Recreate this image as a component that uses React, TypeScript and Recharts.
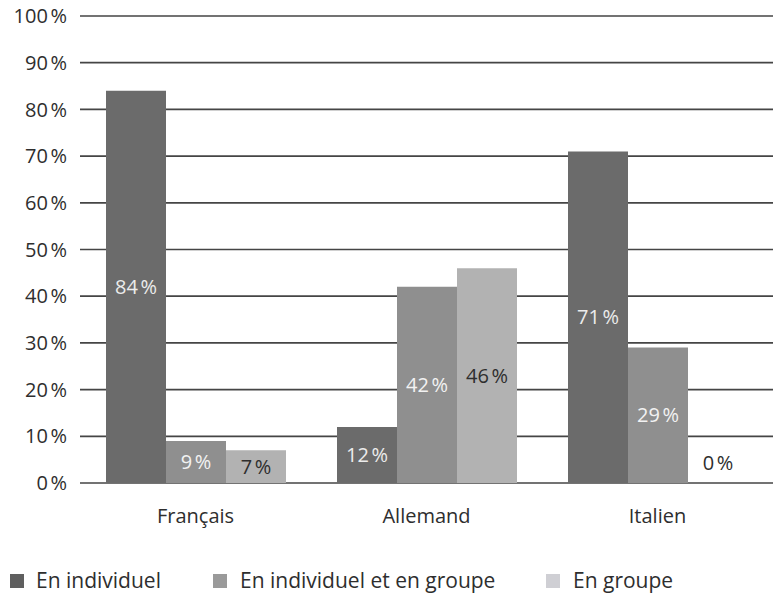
import { BarChart, Bar, XAxis, YAxis, CartesianGrid, LabelList, Rectangle } from "recharts";

const languages = ["Français", "Allemand", "Italien"];
const enIndividuel = [84, 12, 71];
const enIndividuelEtGroupe = [9, 42, 29];
const enGroupe = [7, 46, 0];
const yTicks = [0, 10, 20, 30, 40, 50, 60, 70, 80, 90, 100];

const series = [
  { key: "individuel", label: "En individuel", color: "#6b6b6b", legend: "#5f5f5f", text: "#ececec" },
  { key: "mixte", label: "En individuel et en groupe", color: "#8f8f8f", legend: "#9a9a9a", text: "#f2f2f2" },
  { key: "groupe", label: "En groupe", color: "#b2b2b2", legend: "#cfcfd4", text: "#2e2e2e" },
];

const data = languages.map((name, i) => ({
  name,
  individuel: enIndividuel[i],
  mixte: enIndividuelEtGroupe[i],
  groupe: enGroupe[i],
}));

const FONT = "'Open Sans', sans-serif";
const pct = (v: number) => `${v}\u202f%`;

function makeLabel(color: string) {
  return (props: any) => {
    const { x, y, width, height, value } = props;
    if (!(height > 0)) return null;
    return (
      <text
        x={x + width / 2}
        y={y + height / 2}
        dy="0.35em"
        textAnchor="middle"
        fill={color}
        fontSize={20}
        fontFamily={FONT}
      >
        {pct(value)}
      </text>
    );
  };
}

// zero-height bars get no rectangle, so their value is written just above the baseline
function BarShape(props: any) {
  const { x, y, width, height, value } = props;
  const v = Array.isArray(value) ? value[1] - value[0] : value;
  return (
    <g>
      <Rectangle {...props} />
      {!(height > 0) && (
        <text
          x={x + width / 2}
          y={y - 20}
          dy="0.35em"
          textAnchor="middle"
          fill="#2e2e2e"
          fontSize={20}
          fontFamily={FONT}
        >
          {pct(v ?? 0)}
        </text>
      )}
    </g>
  );
}

// legend drawn as plain HTML under the plot
function LegendRow() {
  const lefts = [10, 213, 546];
  const textLefts = [36, 240, 573];
  return (
    <div style={{ position: "absolute", left: 0, top: 565, width: 775, height: 30, fontFamily: FONT, fontSize: 21, color: "#2e2e2e" }}>
      {series.map((s, i) => (
        <div key={s.key}>
          <span
            style={{
              position: "absolute",
              left: lefts[i],
              top: 9,
              width: 14,
              height: 14,
              backgroundColor: s.legend,
            }}
          />
          <span style={{ position: "absolute", left: textLefts[i], top: 0, lineHeight: "30px", whiteSpace: "nowrap" }}>
            {s.label}
          </span>
        </div>
      ))}
    </div>
  );
}

export default function App() {
  return (
    <div style={{ position: "absolute", left: 0, top: 0, width: 775, height: 594, background: "#fff" }}>
      <BarChart
        width={775}
        height={594}
        data={data}
        margin={{ top: 16, right: 2, left: 0, bottom: 71 }}
        barGap={0}
        barSize={60}
      >
        <CartesianGrid vertical={false} stroke="#454545" strokeWidth={1.7} />
        <XAxis
          dataKey="name"
          axisLine={false}
          tickLine={false}
          tickSize={0}
          tickMargin={26}
          height={40}
          tick={{ fill: "#2e2e2e", fontSize: 20, fontFamily: FONT }}
        />
        <YAxis
          domain={[0, 100]}
          ticks={yTicks}
          width={80}
          axisLine={false}
          tickLine={false}
          tickSize={0}
          tickMargin={13}
          tickFormatter={pct}
          tick={{ fill: "#2e2e2e", fontSize: 20, fontFamily: FONT }}
        />
        {series.map((s) => (
          <Bar
            key={s.key}
            dataKey={s.key}
            name={s.label}
            fill={s.color}
            shape={BarShape}
            isAnimationActive={false}
          >
            <LabelList dataKey={s.key} content={makeLabel(s.text)} />
          </Bar>
        ))}
      </BarChart>
      <LegendRow />
    </div>
  );
}
